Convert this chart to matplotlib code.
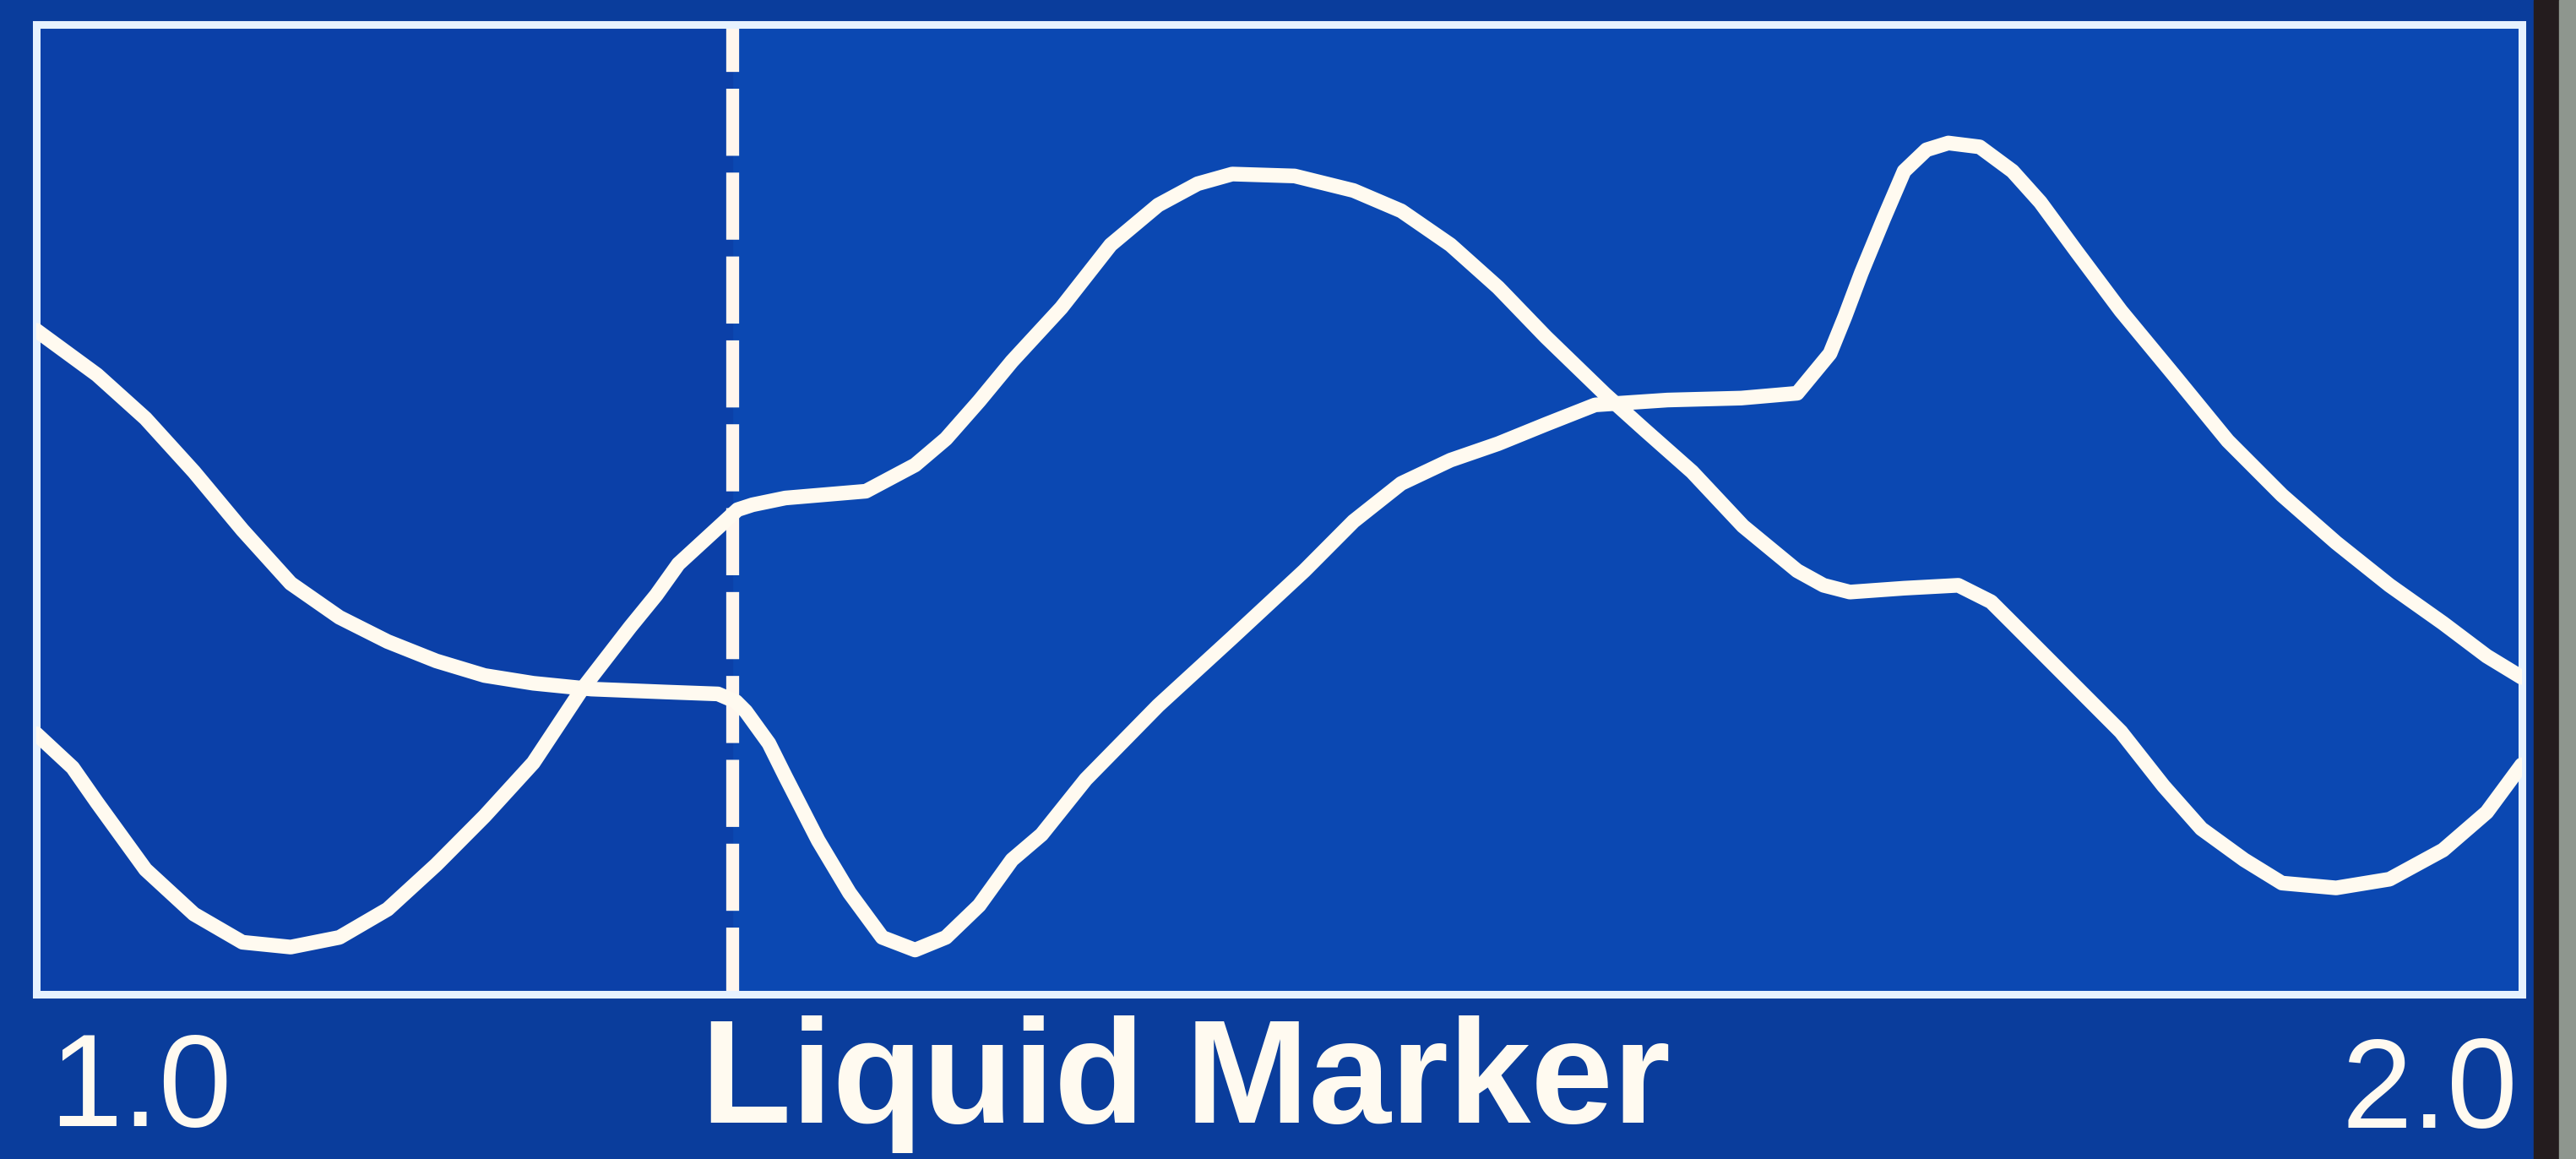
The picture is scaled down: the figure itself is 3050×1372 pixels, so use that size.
import matplotlib
matplotlib.use("Agg")
import matplotlib.pyplot as plt
from matplotlib.patches import Rectangle

# trace A (starts high on the left)
xa = [1.000, 1.0245, 1.044, 1.0635, 1.083, 1.1024, 1.122, 1.1414, 1.161, 1.1804,
      1.200, 1.2234, 1.2530, 1.2743, 1.2816, 1.2855, 1.2948, 1.3014, 1.3146, 1.3272,
      1.3404, 1.3536, 1.366, 1.3794, 1.3926, 1.4045, 1.4223, 1.4514, 1.4812, 1.5102,
      1.530, 1.5492, 1.569, 1.5882, 1.6074, 1.6272, 1.6563, 1.686, 1.7085, 1.7217,
      1.7277, 1.7343, 1.7433, 1.7515, 1.7605, 1.7693, 1.7819, 1.7951, 1.8063, 1.8209,
      1.8387, 1.860, 1.8817, 1.9035, 1.9253, 1.9468, 1.9683, 1.9859, 2.000]
ya = [68.5, 63.9, 59.4, 53.9, 47.9, 42.4, 38.9, 36.4, 34.4, 32.9,
      32.1, 31.5, 31.2, 31.0, 30.2, 29.2, 25.9, 22.5, 15.9, 10.5,
      5.9, 4.6, 5.9, 9.2, 13.9, 16.5, 22.2, 29.8, 36.8, 43.7,
      48.8, 52.7, 55.1, 56.8, 58.8, 60.8, 61.3, 61.5, 62.0, 66.1,
      69.9, 74.4, 80.0, 84.9, 87.1, 87.8, 87.4, 84.9, 81.7, 76.6,
      70.5, 63.9, 57.1, 51.5, 46.6, 42.2, 38.3, 34.9, 32.7]

# trace B (starts low on the left)
xb = [1.000, 1.0147, 1.0245, 1.044, 1.0635, 1.083, 1.1024, 1.122, 1.1414, 1.161,
      1.1804, 1.200, 1.2194, 1.239, 1.2495, 1.2584, 1.2822, 1.2882, 1.3014, 1.3338,
      1.3536, 1.366, 1.3794, 1.3926, 1.4124, 1.4323, 1.4514, 1.4673, 1.4812, 1.5063,
      1.530, 1.5492, 1.569, 1.5882, 1.6074, 1.6312, 1.6468, 1.6662, 1.6867, 1.7085,
      1.7191, 1.7297, 1.7515, 1.7733, 1.7865, 1.7951, 1.8169, 1.8387, 1.8559, 1.8711,
      1.8883, 1.9035, 1.9253, 1.9468, 1.9683, 1.9859, 2.000]
yb = [26.9, 23.4, 19.8, 12.9, 8.3, 5.4, 4.9, 5.9, 8.8, 13.4,
      18.4, 23.9, 31.4, 37.9, 41.2, 44.4, 50.0, 50.5, 51.2, 51.9,
      54.6, 57.3, 61.2, 65.3, 70.8, 77.3, 81.4, 83.6, 84.6, 84.4,
      82.9, 80.8, 77.3, 72.9, 67.8, 61.9, 58.3, 53.9, 48.3, 43.7,
      42.2, 41.5, 41.9, 42.2, 40.5, 38.3, 32.7, 27.1, 21.5, 17.1,
      13.9, 11.5, 11.0, 11.9, 14.9, 18.8, 23.7]

marker_x = 1.28
x_min_label = "1.0"
x_max_label = "2.0"
title = "Liquid Marker"

fig = plt.figure(figsize=(30.5, 13.72), dpi=100)
fig.patch.set_facecolor("#0a3d9c")

ax = fig.add_axes([0.01403, 0.14184, 0.96492, 0.83688])
ax.set_facecolor("#0b48b2")
ax.axvspan(1.0, marker_x, color="#0b40a8", zorder=0)

ax.plot(xa, ya, color="#fffaf0", lw=12.5, solid_capstyle="round", solid_joinstyle="round", zorder=3)
ax.plot(xb, yb, color="#fffaf0", lw=12.5, solid_capstyle="round", solid_joinstyle="round", zorder=3)
ax.axvline(marker_x, color="#fff6ee", lw=11, dashes=(5.2, 1.3), dash_capstyle="butt", zorder=2)

ax.set_xlim(1.0, 2.0)
ax.set_ylim(0, 100)
ax.set_xticks([])
ax.set_yticks([])
for s in ax.spines.values():
    s.set_color("#e6f2ff")
    s.set_linewidth(6.5)

fam = ["Liberation Sans", "DejaVu Sans"]
fig.text(0.0191, 0.0284, x_min_label, color="#fffaf0", fontsize=112, family=fam, va="baseline")
fig.text(0.272, 0.031, title, color="#fffaf0", fontsize=126, family=fam, fontweight="bold", va="baseline")
fig.text(0.909, 0.027, x_max_label, color="#fffaf0", fontsize=108, family=fam, va="baseline")

# bezel of the screen on the right edge
fig.patches.append(Rectangle((0.9836, 0), 0.0098, 1, transform=fig.transFigure, color="#241c1e", zorder=5))
fig.patches.append(Rectangle((0.9934, 0), 0.0066, 1, transform=fig.transFigure, color="#8e968e", zorder=5))

fig.savefig("out.png", dpi=100, facecolor=fig.get_facecolor())
